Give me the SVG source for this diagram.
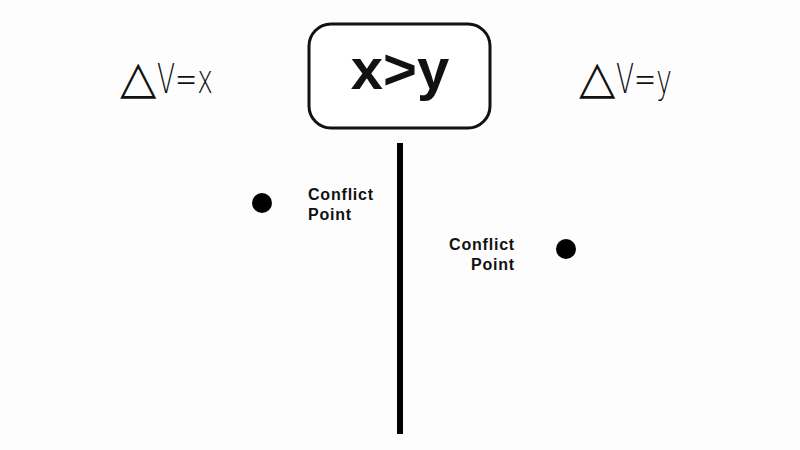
<svg xmlns="http://www.w3.org/2000/svg" width="800" height="450" viewBox="0 0 800 450">
<style>
.hand{font-family:"DejaVu Sans","Liberation Sans",sans-serif;font-weight:200;fill:#111}
.tri{font-size:46px}
.eq{font-size:40px}
.lbl{font-family:"Liberation Sans",Arial,sans-serif;font-size:16px;font-weight:bold;letter-spacing:0.8px;fill:#111}
.dot{fill:#000}
</style>
<rect width="800" height="450" fill="#fefdfe"/>
<g id="label-left">
<text class="hand" x="120" y="93"><tspan class="tri" textLength="36" lengthAdjust="spacingAndGlyphs">△</tspan><tspan class="eq" x="157" textLength="56" lengthAdjust="spacingAndGlyphs">V=x</tspan></text>
</g>
<g id="label-right">
<text class="hand" x="579" y="93"><tspan class="tri" textLength="36" lengthAdjust="spacingAndGlyphs">△</tspan><tspan class="eq" x="616" textLength="56" lengthAdjust="spacingAndGlyphs">V=y</tspan></text>
</g>
<g id="condition">
<rect x="309" y="24" width="181" height="104" rx="22" fill="#fff" stroke="#111" stroke-width="3"/>
<text x="400" y="89" text-anchor="middle" font-family="Liberation Sans,Arial,sans-serif" font-weight="bold" font-size="58" fill="#111">x&gt;y</text>
</g>
<g id="connectors">
<line x1="400" y1="143" x2="400" y2="434" stroke="#000" stroke-width="6"/>
</g>
<g id="point-left">
<circle class="dot" cx="262" cy="203" r="10"/>
<text class="lbl" x="308" y="200">Conflict</text>
<text class="lbl" x="308" y="220">Point</text>
</g>
<g id="point-right">
<circle class="dot" cx="566" cy="249" r="10"/>
<text class="lbl" x="515" y="250" text-anchor="end">Conflict</text>
<text class="lbl" x="515" y="270" text-anchor="end">Point</text>
</g>
</svg>
